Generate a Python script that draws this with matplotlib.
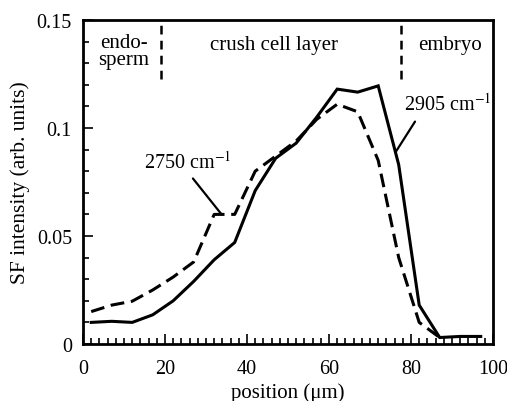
import matplotlib
matplotlib.use("Agg")
import matplotlib.pyplot as plt
from matplotlib.ticker import MultipleLocator

plt.rcParams['font.family'] = ['Liberation Serif', 'DejaVu Serif']
plt.rcParams['mathtext.fontset'] = 'stix'

pos_2905 = [2, 7, 12, 17, 22, 27, 32, 37, 42, 47, 52, 57, 62, 67, 72, 77, 82, 87, 92, 97]
sf_2905 = [0.010, 0.0105, 0.010, 0.0135, 0.020, 0.029, 0.039, 0.047, 0.071, 0.086, 0.093, 0.105,
           0.118, 0.1166, 0.1195, 0.083, 0.018, 0.003, 0.0035, 0.0035]
pos_2750 = [2, 7, 12, 17, 22, 27, 32, 37, 42, 47, 52, 57, 62, 67, 72, 77, 82, 87]
sf_2750 = [0.015, 0.018, 0.0198, 0.025, 0.031, 0.038, 0.060, 0.060, 0.080, 0.087, 0.094, 0.104,
           0.111, 0.1075, 0.085, 0.040, 0.010, 0.003]
boundaries = [19, 77.5]
regions = ["endo-\nsperm", "crush cell layer", "embryo"]
region_x = [10, 46.5, 89.5]
labels = ["2750 cm$^{-1}$", "2905 cm$^{-1}$"]

fig = plt.figure(figsize=(5.07, 4.02), dpi=100)
ax = fig.add_axes([0.1637, 0.1418, 0.9724 - 0.1637, 0.9478 - 0.1418])

ax.plot(pos_2905, sf_2905, color='black', lw=2.2, solid_joinstyle='miter')
ax.plot(pos_2750, sf_2750, color='black', lw=2.2, linestyle=(0, (4.5, 2.2)))

for b in boundaries:
    ax.plot([b, b], [0.1225, 0.15], color='black', lw=1.8, linestyle=(0, (3.5, 2.5)))

ax.set_xlim(0, 100)
ax.set_ylim(0, 0.15)
ax.set_xticks([0, 20, 40, 60, 80, 100])
ax.set_yticks([0, 0.05, 0.1, 0.15])
ax.set_yticklabels(['0', '0.05', '0.1', '0.15'])
ax.xaxis.set_minor_locator(MultipleLocator(2))
ax.yaxis.set_minor_locator(MultipleLocator(0.01))
ax.tick_params(which='both', direction='in', labelsize=14.5, width=1.2)
ax.tick_params(which='major', length=7)
ax.tick_params(which='minor', length=4)
ax.tick_params(axis='x', pad=11)
ax.tick_params(axis='y', pad=8)
for s in ax.spines.values():
    s.set_linewidth(2)

ax.set_xlabel("position (μm)", fontsize=15, labelpad=3)
ax.set_ylabel("SF intensity (arb. units)", fontsize=15.5, labelpad=5)

ax.text(region_x[0], 0.1355, regions[0], ha='center', va='center', fontsize=15, linespacing=0.85)
ax.text(region_x[1], 0.1385, regions[1], ha='center', va='center', fontsize=15)
ax.text(region_x[2], 0.1388, regions[2], ha='center', va='center', fontsize=15)

ax.annotate(labels[0], xy=(33.8, 0.0600), xytext=(36.3, 0.0845), ha='right', va='center', fontsize=14.5,
            arrowprops=dict(arrowstyle='-', color='black', lw=1.6, shrinkA=3, shrinkB=0,
                            relpos=(0.5, 0.0)))
ax.annotate(labels[1], xy=(76.3, 0.089), xytext=(78.3, 0.1115), ha='left', va='center', fontsize=14.5,
            arrowprops=dict(arrowstyle='-', color='black', lw=1.6, shrinkA=4, shrinkB=0,
                            relpos=(0.18, 0.0)))

fig.savefig("out.png", dpi=100, facecolor='white')
